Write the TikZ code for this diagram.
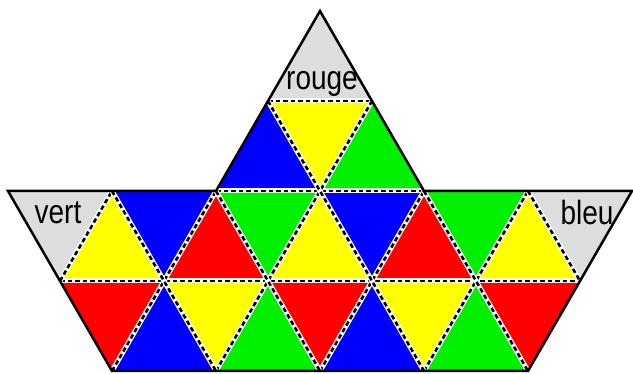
\documentclass[tikz,border=0pt]{standalone}
\usepackage{fontspec}
\setmainfont{Liberation Sans}
\definecolor{cblue}{RGB}{0,0,255}
\definecolor{cyel}{RGB}{255,255,0}
\definecolor{cgreen}{RGB}{0,240,0}
\definecolor{cred}{RGB}{255,0,0}
\definecolor{cgray}{RGB}{221,221,221}
\tikzset{
  inner/.style={draw=white,line width=5pt},
  innerdash/.style={draw=black,line width=2.6pt,dash pattern=on 4.5pt off 3pt},
  outer/.style={draw=black,line width=2.5pt,line join=miter},
  lab/.style={anchor=base,inner sep=0pt,font=\fontsize{28}{30}\selectfont}
}
\newcommand{\tri}[4]{\fill[#1] (#2)--(#3)--(#4)--cycle;}
\newcommand{\iedge}[2]{\draw[inner] (#1)--(#2); \draw[innerdash] (#1)--(#2);}
\begin{document}
\begin{tikzpicture}[x=1pt,y=-1pt]
\useasboundingbox (0,0) rectangle (633,374);
% lattice
\coordinate (A) at (320,11);
\coordinate (U0) at (268,101);
\coordinate (U1) at (372,101);
\foreach \i/\x in {0/8,1/112,2/216,3/320,4/424,5/528,6/632}{\coordinate (T\i) at (\x,191);}
\foreach \i/\x in {0/60,1/164,2/268,3/372,4/476,5/580}{\coordinate (M\i) at (\x,281);}
\foreach \i/\x in {1/112,2/216,3/320,4/424,5/528}{\coordinate (B\i) at (\x,371);}
% top triangle
\tri{cgray}{A}{U0}{U1}
\tri{cblue}{U0}{T2}{T3}
\tri{cyel}{U0}{U1}{T3}
\tri{cgreen}{U1}{T3}{T4}
% band top row
\tri{cgray}{T0}{T1}{M0}
\tri{cyel}{M0}{M1}{T1}
\tri{cblue}{T1}{T2}{M1}
\tri{cred}{M1}{M2}{T2}
\tri{cgreen}{T2}{T3}{M2}
\tri{cyel}{M2}{M3}{T3}
\tri{cblue}{T3}{T4}{M3}
\tri{cred}{M3}{M4}{T4}
\tri{cgreen}{T4}{T5}{M4}
\tri{cyel}{M4}{M5}{T5}
\tri{cgray}{T5}{T6}{M5}
% band bottom row
\tri{cred}{M0}{M1}{B1}
\tri{cblue}{B1}{B2}{M1}
\tri{cyel}{M1}{M2}{B2}
\tri{cgreen}{B2}{B3}{M2}
\tri{cred}{M2}{M3}{B3}
\tri{cblue}{B3}{B4}{M3}
\tri{cyel}{M3}{M4}{B4}
\tri{cgreen}{B4}{B5}{M4}
\tri{cred}{M4}{M5}{B5}
% inner edges
\iedge{U0}{U1}
\iedge{T2}{T4}
\iedge{M0}{M5}
\iedge{M0}{T1}
\iedge{B1}{T2}
\iedge{B2}{U1}
\iedge{B3}{T4}
\iedge{B4}{T5}
\iedge{T1}{B2}
\iedge{T2}{B3}
\iedge{U0}{B4}
\iedge{T4}{B5}
\iedge{T5}{M5}
% outer boundary
\draw[outer] (A)--(T4)--(T6)--(B5)--(B1)--(T0)--(T2)--cycle;
% labels
\node[lab] (rouge) at (322,90) {\scalebox{1}[1.2]{rouge}};
\node[lab] (vert) at (58,224) {\scalebox{1}[1.2]{vert}};
\node[lab] (bleu) at (587,225) {\scalebox{1}[1.2]{bleu}};
\end{tikzpicture}
\end{document}
